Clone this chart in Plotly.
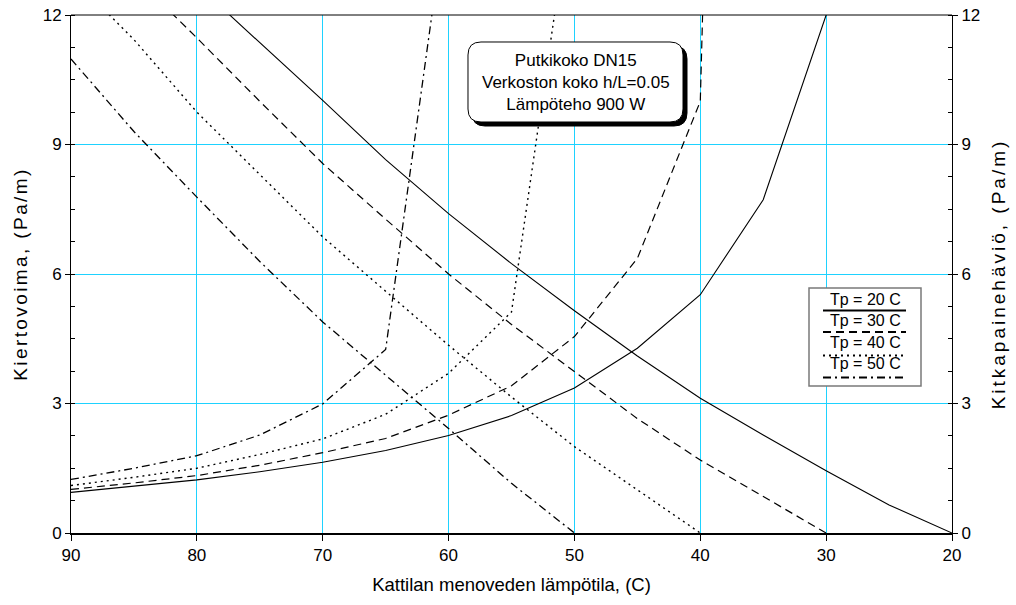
import plotly.graph_objects as go

# ---------------- data ----------------
# Kiertovoima (circulation force), left axis, per return temperature Tp
temps_kv_tp20 = [80, 75, 70, 65, 60, 55, 50, 45, 40, 35, 30, 25, 20]
kv_tp20 = [12.7, 11.36, 10.02, 8.65, 7.4, 6.24, 5.15, 4.1, 3.12, 2.27, 1.44, 0.65, 0.0]
temps_kv_tp30 = [85, 80, 75, 70, 65, 60, 55, 50, 45, 40, 35, 30]
kv_tp30 = [12.9, 11.47, 10.0, 8.56, 7.27, 6.0, 4.83, 3.73, 2.65, 1.69, 0.85, 0.0]
temps_kv_tp40 = [90, 85, 80, 75, 70, 65, 60, 55, 50, 45, 40]
kv_tp40 = [12.9, 11.43, 9.75, 8.3, 6.86, 5.6, 4.35, 3.15, 2.0, 1.0, 0.0]
temps_kv_tp50 = [90, 85, 80, 75, 70, 65, 60, 55, 50]
kv_tp50 = [10.98, 9.3, 7.78, 6.29, 4.89, 3.65, 2.42, 1.15, 0.0]

# Kitkapainehäviö (friction loss), right axis
temps_kp_tp20 = [90, 85, 80, 75, 70, 65, 60, 55, 50, 45, 40, 35, 30]
kp_tp20 = [0.94, 1.08, 1.23, 1.42, 1.64, 1.91, 2.26, 2.72, 3.36, 4.28, 5.52, 7.72, 12.0]
temps_kp_tp30 = [90, 85, 80, 75, 70, 65, 60, 55, 50, 45, 40, 35]
kp_tp30 = [1.01, 1.16, 1.33, 1.57, 1.86, 2.19, 2.73, 3.41, 4.55, 6.36, 10.0, 65.0]
temps_kp_tp40 = [90, 85, 80, 75, 70, 65, 60, 55, 50]
kp_tp40 = [1.10, 1.29, 1.50, 1.82, 2.18, 2.75, 3.70, 5.12, 15.2]
temps_kp_tp50 = [90, 85, 80, 75, 70, 65, 60]
kp_tp50 = [1.24, 1.50, 1.79, 2.27, 2.99, 4.25, 14.8]

legend_labels = ["Tp = 20 C", "Tp = 30 C", "Tp = 40 C", "Tp = 50 C"]
x_ticks = [90, 80, 70, 60, 50, 40, 30, 20]
y_ticks = [0, 3, 6, 9, 12]
info_lines = ["Putkikoko DN15", "Verkoston koko h/L=0.05", "Lämpöteho 900 W"]

# ---------------- styles ----------------
FONT = "Liberation Sans, Arial, sans-serif"
GRID = "#1ED2FF"
dashes = ["solid", "8px,5px", "2px,4px", "8px,4px,2px,4px"]
widths = [1.1, 1.2, 1.4, 1.3]

# layout geometry (pixels)
W, H = 1016, 605
L, R, T, B = 71, 64, 15, 72
PW, PH = W - L - R, H - T - B


def px2paper(x, y):
    return (x - L) / PW, (H - B - y) / PH


def rounded_path(x0, y0, x1, y1, r):
    def p(x, y):
        a, b = px2paper(x, y)
        return f"{a:.5f},{b:.5f}"
    s = f"M {p(x0 + r, y0)} L {p(x1 - r, y0)} Q {p(x1, y0)} {p(x1, y0 + r)} "
    s += f"L {p(x1, y1 - r)} Q {p(x1, y1)} {p(x1 - r, y1)} "
    s += f"L {p(x0 + r, y1)} Q {p(x0, y1)} {p(x0, y1 - r)} "
    s += f"L {p(x0, y0 + r)} Q {p(x0, y0)} {p(x0 + r, y0)} Z"
    return s


fig = go.Figure()

kv_sets = [(temps_kv_tp20, kv_tp20), (temps_kv_tp30, kv_tp30),
           (temps_kv_tp40, kv_tp40), (temps_kv_tp50, kv_tp50)]
kp_sets = [(temps_kp_tp20, kp_tp20), (temps_kp_tp30, kp_tp30),
           (temps_kp_tp40, kp_tp40), (temps_kp_tp50, kp_tp50)]

for i, (xs, ys) in enumerate(kv_sets):
    fig.add_trace(go.Scatter(x=xs, y=ys, mode="lines", yaxis="y",
                             line=dict(color="black", width=widths[i], dash=dashes[i]),
                             name=legend_labels[i], showlegend=False))
for i, (xs, ys) in enumerate(kp_sets):
    fig.add_trace(go.Scatter(x=xs, y=ys, mode="lines", yaxis="y2",
                             line=dict(color="black", width=widths[i], dash=dashes[i]),
                             name=legend_labels[i], showlegend=False))

shapes = []
annotations = []

# top border
shapes.append(dict(type="line", xref="paper", yref="paper", x0=0, x1=1, y0=1, y1=1,
                   line=dict(color="black", width=1)))

# info box with shadow
shapes.append(dict(type="path", xref="paper", yref="paper",
                   path=rounded_path(472, 46, 687, 126, 13),
                   fillcolor="black", line=dict(color="black", width=1)))
shapes.append(dict(type="path", xref="paper", yref="paper",
                   path=rounded_path(468, 42, 683, 122, 13),
                   fillcolor="white", line=dict(color="black", width=1)))
cx, cy = px2paper(575.5, 83)
annotations.append(dict(xref="paper", yref="paper", x=cx, y=cy, xanchor="center", yanchor="middle",
                        text="<br>".join(info_lines), showarrow=False, align="center",
                        font=dict(family=FONT, size=17, color="black")))

# custom legend (line sample under each label)
bx0, by0 = px2paper(809, 288)
bx1, by1 = px2paper(921, 386)
shapes.append(dict(type="rect", xref="paper", yref="paper", x0=bx0, y0=by1, x1=bx1, y1=by0,
                   fillcolor="white", line=dict(color="#7a7a7a", width=1.5)))
text_y = [299, 320.5, 342, 363.5]
line_y = [310.5, 332, 355.5, 377.5]
for i, lab in enumerate(legend_labels):
    tx, ty = px2paper(865, text_y[i])
    annotations.append(dict(xref="paper", yref="paper", x=tx, y=ty, xanchor="center", yanchor="middle",
                            text=lab, showarrow=False,
                            font=dict(family=FONT, size=16, color="black")))
    lx0, ly = px2paper(823, line_y[i])
    lx1, _ = px2paper(906, line_y[i])
    shapes.append(dict(type="line", xref="paper", yref="paper", x0=lx0, x1=lx1, y0=ly, y1=ly,
                       line=dict(color="black", width=2, dash=dashes[i])))

axis_common = dict(range=[0, 12], tickvals=y_ticks, showgrid=True, gridcolor=GRID, gridwidth=1,
                   zeroline=False, showline=True, linecolor="black", linewidth=1,
                   ticks="outside", ticklen=5, tickcolor="black", automargin=False,
                   tickfont=dict(family=FONT, size=17, color="black"),
                   minor=dict(ticks="inside", dtick=0.75, ticklen=4, tickcolor="black", showgrid=False))

fig.update_layout(
    width=W, height=H,
    margin=dict(l=L, r=R, t=T, b=B, pad=0, autoexpand=False),
    paper_bgcolor="white", plot_bgcolor="white",
    showlegend=False,
    font=dict(family=FONT, size=16, color="black"),
    xaxis=dict(range=[90, 20], tickvals=x_ticks, showgrid=True, gridcolor=GRID, gridwidth=1,
               zeroline=False, showline=True, linecolor="black", linewidth=2,
               ticks="outside", ticklen=6, tickcolor="black", automargin=False,
               tickfont=dict(family=FONT, size=17, color="black"),
               title=dict(text="Kattilan menoveden lämpötila, (C)", standoff=14,
                          font=dict(family=FONT, size=18.5, color="black"))),
    yaxis=dict(**axis_common, side="left",
               title=dict(text="Kiertovoima, (Pa/m)", standoff=10,
                          font=dict(family=FONT, size=19, color="black"))),
    yaxis2=dict(**axis_common, side="right", overlaying="y",
                title=dict(text="Kitkapainehäviö, (Pa/m)", standoff=12,
                           font=dict(family=FONT, size=19, color="black"))),
    shapes=shapes,
    annotations=annotations,
)

post = ("document.body.style.margin='0';document.body.style.overflow='hidden';"
        "document.querySelectorAll('text.ytitle').forEach(function(e){e.style.letterSpacing='2.4px';});"
        "document.querySelectorAll('text.y2title').forEach(function(e){e.style.letterSpacing='3px';});")

fig.write_html("out.html", config={"displayModeBar": False}, post_script=post)
